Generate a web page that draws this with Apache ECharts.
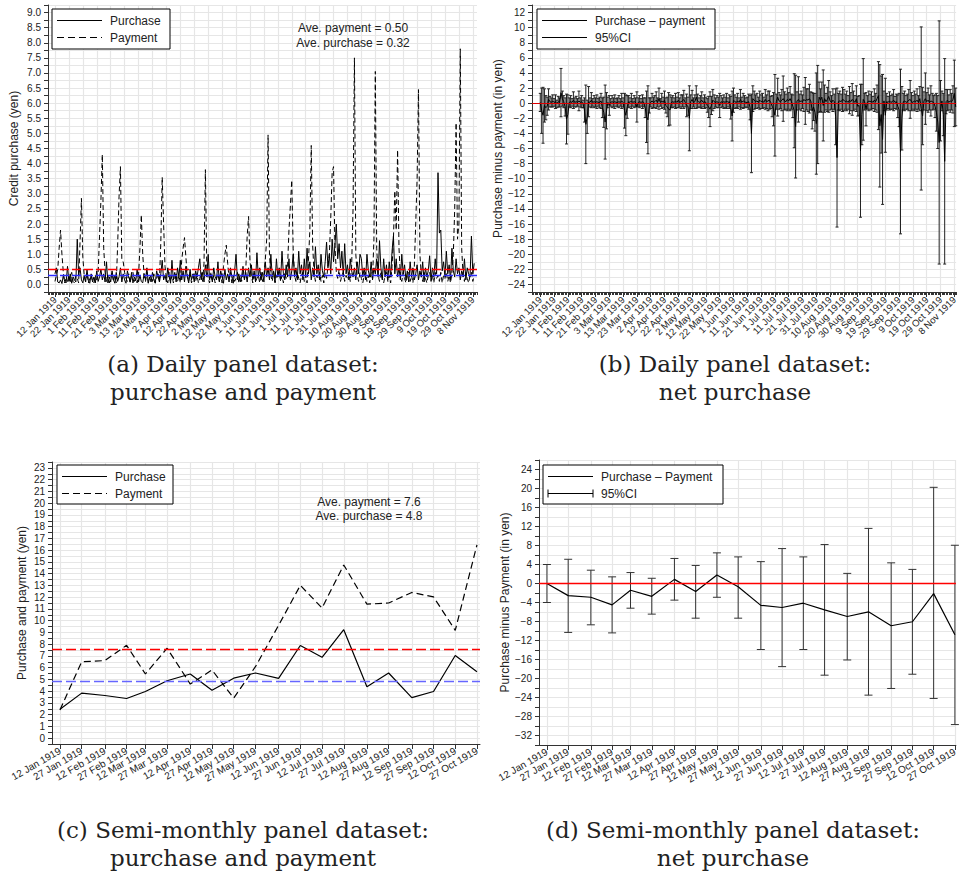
<!DOCTYPE html>
<html>
<head>
<meta charset="utf-8">
<title>Credit purchase and payment, 1919</title>
<script src="https://cdn.jsdelivr.net/npm/echarts@6/dist/echarts.min.js"></script>
<style>
html, body { margin: 0; padding: 0; background: #fff; }
#container { width: 960px; height: 881px; }
</style>
</head>
<body>
<div id="container"></div>
<script>
// ---- daily panel (12 Jan 1919 = day 0) ----
var dailyTickDays = [0, 10, 20, 30, 40, 50, 60, 70, 80, 90, 100, 110, 120, 130, 140, 150,
	160, 170, 180, 190, 200, 210, 220, 230, 240, 250, 260, 270, 280, 290, 300];
var dailyTickLabels = ['12 Jan 1919', '22 Jan 1919', '1 Feb 1919', '11 Feb 1919', '21 Feb 1919',
	'3 Mar 1919', '13 Mar 1919', '23 Mar 1919', '2 Apr 1919', '12 Apr 1919', '22 Apr 1919',
	'2 May 1919', '12 May 1919', '22 May 1919', '1 Jun 1919', '11 Jun 1919', '21 Jun 1919',
	'1 Jul 1919', '11 Jul 1919', '21 Jul 1919', '31 Jul 1919', '10 Aug 1919', '20 Aug 1919',
	'30 Aug 1919', '9 Sep 1919', '19 Sep 1919', '29 Sep 1919', '9 Oct 1919', '19 Oct 1919',
	'29 Oct 1919', '8 Nov 1919'];

var purchaseDaily = [
	0.35, 0.55, 0.08, 0.05, 0.15, 0.03, 0.3, 0.1, 0.05, 0.6,
	0.1, 0.35, 0.04, 0.25, 0.15, 0.08, 1.5, 0.3, 0.55, 0.15,
	0.05, 0.3, 0.08, 0.5, 0.12, 0.04, 0.35, 0.08, 0.25, 0.05,
	0.45, 0.1, 0.25, 0.5, 0.15, 0.35, 0.08, 0.75, 0.05, 0.25,
	0.08, 0.45, 0.15, 0.04, 0.4, 0.1, 0.25, 0.55, 0.08, 0.35,
	0.15, 0.04, 0.45, 0.25, 0.08, 0.4, 0.05, 0.25, 0.12, 0.5,
	0.08, 0.3, 0.1, 0.05, 0.35, 0.15, 0.55, 0.04, 0.25, 0.08,
	0.4, 0.15, 0.04, 0.45, 0.25, 0.08, 0.35, 0.8, 0.15, 0.3,
	0.08, 0.55, 0.25, 0.04, 0.8, 0.15, 0.4, 0.08, 0.55, 0.25,
	0.8, 0.15, 0.45, 0.08, 0.6, 0.25, 0.05, 0.5, 0.15, 0.35,
	0.08, 0.45, 0.25, 0.55, 0.85, 0.15, 0.4, 0.08, 0.65, 0.25,
	1.0, 0.15, 0.35, 0.08, 0.55, 0.25, 0.15, 0.75, 0.08, 0.45,
	0.25, 0.04, 0.5, 0.15, 0.35, 0.08, 0.55, 0.25, 0.04, 0.45,
	1.0, 0.15, 0.35, 0.08, 0.25, 0.6, 0.15, 0.4, 0.08, 0.55,
	0.25, 0.65, 0.15, 0.45, 0.08, 1.05, 0.25, 0.55, 0.15, 0.4,
	0.08, 0.75, 0.25, 0.55, 0.15, 1.0, 0.25, 0.45, 0.08, 0.85,
	0.25, 0.55, 0.15, 1.1, 0.35, 0.15, 0.65, 0.25, 0.85, 0.15,
	0.45, 1.0, 0.25, 0.55, 0.15, 1.1, 0.35, 0.65, 0.15, 0.85,
	0.25, 1.2, 0.35, 0.75, 0.15, 0.55, 0.25, 1.25, 0.35, 0.65,
	0.15, 1.0, 0.45, 0.25, 0.75, 1.4, 0.55, 1.0, 0.35, 1.5,
	0.75, 1.3, 2.0, 0.85, 1.35, 0.55, 1.1, 0.25, 1.35, 0.35,
	0.65, 0.15, 0.85, 0.45, 0.25, 0.55, 0.15, 0.75, 0.35, 1.0,
	0.85, 0.25, 0.55, 0.15, 1.0, 0.45, 0.25, 0.75, 0.15, 0.55,
	0.35, 0.85, 0.25, 1.45, 0.55, 0.15, 0.85, 0.25, 0.65, 0.15,
	0.75, 0.25, 1.1, 1.6, 0.35, 0.85, 0.25, 0.55, 0.15, 1.0,
	0.35, 0.65, 0.15, 0.45, 0.08, 0.75, 0.25, 0.55, 0.15, 0.35,
	0.65, 0.15, 0.45, 0.25, 0.75, 0.08, 0.55, 0.25, 0.45, 0.95,
	0.15, 0.55, 0.25, 0.85, 0.35, 3.7, 1.7, 1.8, 0.45, 0.75,
	0.25, 1.1, 0.35, 0.65, 0.15, 1.2, 0.45, 0.25, 0.85, 0.35,
	0.55, 0.15, 0.45, 0.25, 0.85, 0.15, 0.55, 0.35, 0.25, 1.6,
	0.35, 0.7
];

var paymentDaily = [
	0.1, 0.3, 0.5, 1.2, 1.8, 1.0, 0.4, 0.05, 0.2, 0.1,
	0.3, 0.05, 0.4, 0.1, 0.05, 0.3, 0.2, 0.05, 1.4, 2.85,
	0.9, 0.3, 0.1, 0.4, 0.05, 0.2, 0.3, 0.1, 0.05, 0.3,
	0.1, 0.4, 1.6, 2.8, 4.3, 1.2, 0.4, 0.1, 0.3, 0.05,
	0.2, 0.4, 0.1, 0.3, 0.05, 1.3, 2.9, 3.9, 0.8, 0.75,
	0.4, 0.2, 0.1, 0.35, 0.05, 0.3, 0.4, 0.1, 0.2, 0.05,
	0.3, 1.2, 2.3, 1.0, 0.3, 0.1, 0.4, 0.05, 0.2, 0.3,
	0.1, 0.35, 0.05, 0.2, 0.4, 0.1, 1.4, 3.55, 2.0, 0.6,
	0.2, 0.05, 0.4, 0.1, 0.3, 0.05, 0.2, 0.4, 0.1, 0.3,
	0.05, 0.8, 1.2, 1.55, 0.9, 0.3, 0.1, 0.4, 0.05, 0.2,
	0.4, 0.1, 0.3, 0.05, 0.2, 0.4, 0.1, 0.7, 3.8, 0.6,
	0.2, 0.05, 0.4, 0.1, 0.3, 0.05, 0.2, 0.35, 0.1, 0.3,
	0.05, 0.6, 1.0, 1.3, 0.7, 0.2, 0.4, 0.05, 0.3, 0.1,
	0.2, 0.4, 0.05, 0.3, 0.1, 0.4, 0.2, 0.5, 1.6, 2.25,
	0.8, 0.3, 0.05, 0.4, 0.1, 0.2, 0.3, 0.05, 0.4, 0.1,
	0.3, 0.8, 1.5, 4.95, 1.0, 0.3, 0.1, 0.4, 0.05, 0.3,
	0.2, 0.4, 0.1, 0.3, 0.05, 0.4, 0.2, 0.6, 1.8, 2.6,
	3.45, 1.2, 0.3, 0.1, 0.4, 0.2, 0.05, 0.3, 0.4, 0.1,
	0.3, 0.05, 0.8, 1.8, 4.6, 1.3, 0.4, 0.1, 0.3, 0.2,
	0.4, 0.1, 0.3, 0.05, 0.4, 0.2, 0.6, 1.0, 2.2, 3.7,
	3.9, 1.3, 0.4, 0.2, 0.5, 0.1, 0.3, 0.4, 0.1, 0.3,
	0.2, 0.4, 0.1, 0.6, 2.5, 7.5, 1.0, 0.3, 0.1, 0.4,
	0.2, 0.05, 0.3, 0.4, 0.1, 0.3, 0.05, 0.4, 0.2, 1.5,
	7.05, 1.2, 0.3, 0.1, 0.4, 0.2, 0.05, 0.3, 0.4, 0.1,
	0.3, 0.05, 0.6, 1.5, 3.1, 1.8, 4.45, 1.2, 0.3, 0.1,
	0.4, 0.2, 0.05, 0.3, 0.4, 0.1, 0.3, 0.05, 0.6, 2.0,
	3.5, 6.45, 1.0, 0.3, 0.1, 0.4, 0.2, 0.05, 0.3, 0.4,
	0.1, 0.3, 0.05, 0.4, 0.2, 0.3, 0.1, 0.4, 0.05, 0.3,
	0.2, 0.4, 0.1, 0.3, 0.05, 0.4, 1.0, 2.5, 5.35, 1.5,
	2.0, 7.8, 1.2, 0.3, 0.1, 0.4, 0.2, 0.05, 0.3, 0.4,
	0.1, 0.3
];

var dailyAverages = [0.50, 0.32]; // payment, purchase

// net purchase (purchase - payment) and half width of its 95% CI
var netDaily = [
	0.1, -1.0, -1.6, -0.3, -0.6, -0.4, 0.5, 0.2, 0.1, 0.3,
	0.1, 0.2, -0.1, 0.2, 0.1, 1.4, 0.6, 0.2, -0.5, -2.1,
	-1.5, 0.1, 0.2, 0.1, 0.4, 0.1, 0.2, 0.1, 0.3, 0.1,
	0.2, -0.1, -0.9, -2.8, -1.8, 0.2, 0.1, 0.4, 0.1, 0.2,
	0.1, 0.2, 0.1, 0.1, 0.3, -0.6, -1.2, -2.5, -1.0, 0.1,
	-0.3, 0.1, 0.2, 0.1, 0.2, 0.1, 0.1, 0.2, 0.1, 0.3,
	0.1, -1.0, -1.6, -0.5, 0.2, 0.1, 0.3, 0.1, 0.2, 0.1,
	-0.5, 0.1, 0.2, 0.1, 0.2, 0.1, -0.6, -1.8, -2.2, -0.3,
	0.1, 0.3, 0.1, 0.2, 0.4, 0.1, 0.6, 0.1, 0.3, 0.1,
	0.4, -0.3, -0.5, -0.8, -0.9, 0.1, 0.2, 0.1, 0.3, 0.1,
	0.4, 0.1, 0.2, 0.3, 0.5, 0.1, -0.3, -0.4, -2.0, 0.2,
	0.5, 0.1, 0.2, 0.8, 0.3, 0.1, 0.2, 0.4, 0.1, 0.2,
	0.1, -0.3, -0.5, -0.8, -0.3, 0.4, 0.2, 0.1, 0.2, 0.1,
	-0.3, 0.2, 0.1, 0.2, 0.1, 0.3, 0.1, 0.2, -0.6, -1.7,
	0.4, 0.2, 0.1, 0.3, 0.1, 0.5, 0.1, 0.3, 0.2, 0.1,
	0.1, 0.2, -0.6, -4.0, 0.6, 0.4, 0.2, 0.3, 0.1, 0.4,
	0.2, 0.3, 0.1, 0.5, 0.2, 0.3, 0.4, 0.1, -0.4, -0.8,
	-1.6, 0.2, 0.8, 0.3, 0.2, 0.4, 0.6, 0.3, 0.2, 0.5,
	0.3, 0.6, 0.2, -0.4, -1.0, -3.1, 0.3, 0.5, 0.2, 0.3,
	0.2, 0.5, 0.3, 0.5, 0.4, 0.6, 0.3, -1.0, -0.5, -1.2,
	-2.7, -1.5, 0.8, 0.4, 0.8, -0.3, 0.6, 0.2, 0.5, 0.9,
	0.3, 0.1, 0.4, 0.2, -1.8, -7.2, 0.2, 0.3, 0.2, 0.5,
	0.4, 0.2, 0.3, 0.1, 0.4, 0.2, 0.5, 0.3, 0.1, 0.6,
	-0.4, -0.3, -6.3, -1.5, 0.5, 0.2, -0.8, 0.1, 0.3, 0.2,
	0.3, 0.1, 0.4, 0.2, 0.6, 1.0, -3.0, -1.5, -4.8, 0.3,
	-1.6, 0.2, 0.1, 0.3, 0.1, 0.2, 0.4, 0.1, 0.2, -0.4,
	-0.9, -6.4, -2.0, 0.2, 0.3, 0.1, 0.2, 0.4, 0.5, 0.2,
	0.1, 0.3, 0.2, 0.4, 0.1, 0.6, -0.7, -1.7, 0.3, 0.6,
	0.2, 0.4, 0.1, 0.3, 0.2, 0.1, -0.4, -1.2, -2.5, -5.2,
	-1.0, 0.3, -1.5, -7.7, 0.2, 0.4, 0.1, 0.3, 0.2, 0.5,
	1.3, -0.5
];
var ciDaily = [
	1.2, 3.0, 3.7, 2.2, 1.6, 1.2, 1.4, 0.7, 0.6, 0.8,
	0.5, 0.9, 0.5, 0.7, 0.6, 3.2, 1.0, 0.8, 1.2, 3.3,
	2.6, 0.6, 0.8, 0.5, 1.1, 0.6, 0.7, 0.5, 1.3, 0.6,
	0.8, 0.5, 1.6, 5.2, 2.2, 2.0, 0.6, 1.0, 0.5, 0.8,
	0.6, 0.9, 0.5, 0.7, 1.0, 1.3, 2.0, 4.9, 2.4, 0.7,
	1.3, 0.5, 0.8, 0.6, 0.9, 0.5, 0.6, 0.8, 0.5, 1.0,
	0.6, 2.3, 2.7, 1.5, 0.8, 0.6, 1.0, 0.5, 0.8, 0.6,
	2.0, 0.6, 0.8, 0.5, 0.9, 0.6, 1.3, 3.4, 4.5, 1.0,
	0.6, 1.0, 0.7, 0.8, 1.1, 0.6, 1.4, 0.5, 1.0, 0.7,
	1.2, 1.0, 1.3, 2.2, 2.0, 0.7, 0.8, 0.6, 1.0, 0.7,
	1.0, 0.6, 0.9, 0.8, 1.2, 0.6, 1.5, 1.2, 4.3, 0.9,
	1.2, 0.6, 0.9, 1.5, 0.9, 0.6, 0.8, 1.1, 0.6, 0.9,
	0.7, 0.9, 1.4, 2.3, 1.2, 1.4, 0.9, 0.6, 0.8, 0.7,
	1.6, 0.8, 0.6, 0.9, 0.7, 1.0, 0.6, 0.9, 1.5, 3.3,
	1.6, 0.9, 0.7, 1.0, 0.6, 1.3, 0.7, 1.0, 0.8, 0.6,
	0.7, 1.0, 1.6, 5.2, 1.7, 1.2, 0.9, 1.0, 0.7, 1.2,
	0.9, 1.0, 0.7, 1.3, 0.9, 1.3, 1.2, 0.8, 1.4, 2.2,
	5.4, 1.0, 2.5, 1.1, 0.9, 1.4, 3.0, 1.2, 1.0, 1.5,
	1.1, 1.6, 1.0, 1.5, 4.9, 6.8, 1.2, 3.0, 1.0, 1.3,
	0.9, 1.6, 3.1, 1.4, 1.5, 1.9, 1.2, 2.4, 1.8, 2.5,
	6.7, 6.5, 2.0, 1.5, 2.0, 4.7, 1.8, 1.1, 1.6, 2.1,
	1.2, 0.9, 1.5, 1.0, 3.7, 9.2, 1.1, 1.3, 1.0, 1.6,
	1.4, 1.0, 1.3, 0.9, 1.8, 1.2, 2.1, 1.3, 0.9, 1.7,
	1.3, 1.3, 8.8, 4.0, 5.4, 1.1, 2.2, 0.9, 1.3, 1.0,
	1.2, 0.8, 1.5, 1.1, 1.8, 4.5, 8.1, 5.1, 8.6, 1.3,
	4.9, 1.1, 0.8, 1.2, 0.9, 1.0, 1.4, 0.8, 1.0, 1.5,
	2.2, 10.9, 4.2, 1.1, 1.3, 0.9, 1.0, 1.4, 2.5, 1.2,
	0.9, 1.3, 1.0, 1.5, 0.9, 1.6, 10.8, 3.8, 1.2, 3.4,
	1.2, 1.6, 1.0, 2.0, 1.1, 0.9, 1.5, 2.5, 3.5, 16.1,
	4.0, 1.3, 2.8, 13.6, 1.6, 1.4, 1.0, 1.5, 1.1, 1.8,
	4.4, 2.5
];

// ---- semi-monthly panel ----
var semiDays = [0, 15, 31, 46, 59, 74, 90, 105, 120, 135, 151, 166, 181, 196, 212, 227, 243, 258, 273, 288];
var semiLabels = ['12 Jan 1919', '27 Jan 1919', '12 Feb 1919', '27 Feb 1919', '12 Mar 1919',
	'27 Mar 1919', '12 Apr 1919', '27 Apr 1919', '12 May 1919', '27 May 1919', '12 Jun 1919',
	'27 Jun 1919', '12 Jul 1919', '27 Jul 1919', '12 Aug 1919', '27 Aug 1919', '12 Sep 1919',
	'27 Sep 1919', '12 Oct 1919', '27 Oct 1919'];
var purchaseSemi = [2.45, 3.83, 3.63, 3.37, 3.97, 4.88, 5.46, 4.08, 5.1, 5.54, 5.08, 7.88, 6.88, 9.23, 4.37, 5.54, 3.45, 3.97, 7.03, 5.65];
var paymentSemi = [2.4, 6.5, 6.6, 7.9, 5.46, 7.65, 4.6, 5.8, 3.4, 6.08, 9.6, 13.0, 11.08, 14.74, 11.4, 11.5, 12.4, 12.02, 9.17, 16.45];
var semiAverages = [7.6, 4.8]; // payment, purchase
var netSemi = [0.0, -2.55, -2.9, -4.5, -1.43, -2.7, 0.87, -1.7, 1.78, -0.67, -4.6, -5.05, -4.15, -5.55, -6.94, -5.96, -8.9, -8.05, -2.13, -10.8];
var ciLowSemi = [-4.0, -10.3, -8.7, -10.4, -5.2, -6.45, -3.5, -7.3, -2.9, -7.3, -13.9, -17.5, -13.9, -19.3, -16.1, -23.5, -22.1, -19.1, -24.2, -29.7];
var ciHighSemi = [4.0, 5.1, 2.8, 1.4, 2.3, 1.1, 5.27, 3.8, 6.45, 5.6, 4.6, 7.35, 5.6, 8.2, 2.13, 11.6, 4.35, 2.97, 20.25, 8.05];

var dom = document.getElementById("container");
var myChart = echarts.init(dom, null, { renderer: 'svg' });

var INK = '#222';
var GRIDC = '#e6e6e6';
var SANS = '"Liberation Sans", Arial, sans-serif';
var SERIF = '"DejaVu Serif", "Liberation Serif", serif';
var SOLID = [400, 0];

function dateAxis(gridIndex, min, max, ticks, labels, rotate, size) {
	return {
		type: 'value', gridIndex: gridIndex, min: min, max: max, position: 'bottom',
		axisLine: { onZero: false, lineStyle: { color: '#333', width: 1 } },
		axisTick: { customValues: ticks, length: 5, lineStyle: { color: '#333' } },
		axisLabel: {
			show: !!labels, customValues: ticks, rotate: rotate, margin: 6, fontSize: size,
			color: INK, fontFamily: SANS,
			showMinLabel: true, showMaxLabel: true, hideOverlap: false,
			formatter: function (v) { return labels ? (labels[ticks.indexOf(Math.round(v))] || '') : ''; }
		},
		splitLine: { show: true, lineStyle: { color: GRIDC, width: 1.2 } }
	};
}
// daily minor ticks, one per day; optionally carries the 10-day labels
function dayTickAxis(gridIndex, min, max, labels) {
	return {
		type: 'value', gridIndex: gridIndex, min: min, max: max, interval: 1, position: 'bottom',
		axisLine: { show: false, onZero: false },
		axisTick: { show: true, length: 3, lineStyle: { color: '#333' } },
		axisLabel: {
			show: !!labels, rotate: 45, margin: 6, fontSize: 9.6, color: INK, fontFamily: SANS,
			showMinLabel: true, showMaxLabel: true, hideOverlap: false,
			formatter: function (v) {
				var k = Math.round(v);
				var idx = dailyTickDays.indexOf(k);
				return (labels && idx >= 0) ? labels[idx] : '';
			}
		},
		splitLine: { show: false }
	};
}
function numAxis(gridIndex, min, max, interval, name, nameGap, fmt) {
	return {
		type: 'value', gridIndex: gridIndex, min: min, max: max, interval: interval,
		name: name, nameLocation: 'middle', nameGap: nameGap, nameRotate: 90,
		nameTextStyle: { fontSize: 12, color: INK, fontFamily: SANS },
		axisLine: { show: true, onZero: false, lineStyle: { color: '#333' } },
		axisTick: { show: true, length: 4, lineStyle: { color: '#333' } },
		axisLabel: { fontSize: 10, color: INK, margin: 7, fontFamily: SANS, formatter: fmt },
		splitLine: { show: true, lineStyle: { color: GRIDC, width: 1.2 } }
	};
}
function minus(v) {
	return v < 0 ? '\u2212' + (-v) : '' + v;
}

function errorBars(capHalf, color) {
	return function (params, api) {
		var x = api.value(0);
		var lo = api.coord([x, api.value(1)]);
		var hi = api.coord([x, api.value(2)]);
		function seg(x1, y1, x2, y2) {
			return { type: 'line', shape: { x1: x1, y1: y1, x2: x2, y2: y2 },
				style: { stroke: color, lineWidth: 1, fill: null } };
		}
		return { type: 'group', children: [
			seg(lo[0], lo[1], hi[0], hi[1]),
			seg(lo[0] - capHalf, lo[1], lo[0] + capHalf, lo[1]),
			seg(hi[0] - capHalf, hi[1], hi[0] + capHalf, hi[1])
		] };
	};
}
// horizontal reference line at a y value
function refLine(value, color, width, dash) {
	var ls = { color: color, width: width, opacity: 1, type: dash };
	return {
		silent: true, symbol: 'none', label: { show: false }, z: 6,
		lineStyle: ls,
		emphasis: { disabled: true },
		data: [{ yAxis: value, lineStyle: ls }]
	};
}

function legendBox(x, y, w, h, items) {
	var els = [{ type: 'rect', z: 100, shape: { x: x, y: y, width: w, height: h },
		style: { fill: '#fff', stroke: '#000', lineWidth: 1 } }];
	items.forEach(function (it, k) {
		var ry = y + 11.5 + k * 17;
		var ls = { stroke: '#000', lineWidth: 1 };
		if (it.kind === 'dashed') ls.lineDash = [7, 4];
		els.push({ type: 'line', z: 101, shape: { x1: x + 5, y1: ry, x2: x + 50, y2: ry }, style: ls });
		if (it.kind === 'rcap') {
			els.push({ type: 'line', z: 101, shape: { x1: x + 5, y1: ry - 4, x2: x + 5, y2: ry + 4 }, style: { stroke: '#000', lineWidth: 1 } });
			els.push({ type: 'line', z: 101, shape: { x1: x + 50, y1: ry - 4, x2: x + 50, y2: ry + 4 }, style: { stroke: '#000', lineWidth: 1 } });
		}
		els.push({ type: 'text', z: 101, style: { text: it.label, x: x + 58, y: ry, fill: INK,
			fontSize: 12, fontFamily: SANS, align: 'left', verticalAlign: 'middle' } });
	});
	return els;
}
function centerText(text, x, y, size, family) {
	return { type: 'text', z: 100, style: { text: text, x: x, y: y, fill: INK,
		fontSize: size, fontFamily: family, align: 'center', verticalAlign: 'middle' } };
}

var option = {
	animation: false,
	grid: [
		{ left: 48, top: 5, width: 429, height: 287 },
		{ left: 532, top: 5, width: 428, height: 287 },
		{ left: 52, top: 462, width: 428, height: 282 },
		{ left: 539, top: 460, width: 421, height: 285 }
	],
	xAxis: [
		dateAxis(0, -5, 303, dailyTickDays, dailyTickLabels, 45, 9.6),
		dayTickAxis(0, -5, 303, null),
		dateAxis(1, -6, 301.3, dailyTickDays, null, 45, 9.6),
		dayTickAxis(1, -6, 301.3, dailyTickLabels),
		dateAxis(2, -5.5, 290.1, semiDays, semiLabels, 30, 10),
		dateAxis(3, -5.6, 288.7, semiDays, semiLabels, 30, 10)
	],
	yAxis: [
		numAxis(0, -0.25, 9.25, 0.25, 'Credit purchase (yen)', 28, function (v) {
			var k = Math.round(v * 100);
			return (k % 50 === 0 && k >= 0 && k <= 900) ? (k / 100).toFixed(1) : '';
		}),
		numAxis(1, -25, 13, 1, 'Purchase minus payment (in yen)', 28, function (v) {
			var k = Math.round(v);
			return (k % 2 === 0 && k >= -24 && k <= 12) ? minus(k) : '';
		}),
		numAxis(2, -0.5, 23.5, 0.5, 'Purchase and payment (yen)', 24, function (v) {
			var k = Math.round(v * 10);
			return (k % 10 === 0 && k >= 0 && k <= 230) ? '' + (k / 10) : '';
		}),
		numAxis(3, -34, 26, 2, 'Purchase minus Payment (in yen)', 27, function (v) {
			var k = Math.round(v);
			return (k % 4 === 0 && k >= -32 && k <= 24) ? minus(k) : '';
		})
	],
	series: [
		{
			name: 'Purchase', type: 'line', xAxisIndex: 0, yAxisIndex: 0, symbol: 'none', z: 3,
			data: purchaseDaily.map(function (v, i) { return [i, v]; }),
			lineStyle: { color: '#000', width: 1 },
			markLine: refLine(dailyAverages[1], '#2b2bff', 1.3, [9, 3])
		},
		{
			name: 'Payment', type: 'line', xAxisIndex: 0, yAxisIndex: 0, symbol: 'none', z: 2,
			data: paymentDaily.map(function (v, i) { return [i, v]; }),
			lineStyle: { color: '#000', width: 1, type: [5, 3] },
			markLine: refLine(dailyAverages[0], '#ff0000', 1.3, [9, 3])
		},
		{
			name: '95%CI', type: 'custom', xAxisIndex: 2, yAxisIndex: 1, z: 2,
			renderItem: errorBars(1.5, '#222'),
			encode: { x: 0, y: [1, 2] },
			data: netDaily.map(function (v, i) { return [i, v - ciDaily[i], v + ciDaily[i]]; })
		},
		{
			name: 'Purchase \u2212 payment', type: 'line', xAxisIndex: 2, yAxisIndex: 1, symbol: 'none', z: 3,
			data: netDaily.map(function (v, i) { return [i, v]; }),
			lineStyle: { color: '#000', width: 1 },
			markLine: refLine(0, '#dd0000', 1, SOLID)
		},
		{
			name: 'Purchase semi', type: 'line', xAxisIndex: 4, yAxisIndex: 2, symbol: 'none', z: 3,
			data: purchaseSemi.map(function (v, i) { return [semiDays[i], v]; }),
			lineStyle: { color: '#000', width: 1.2 },
			markLine: refLine(semiAverages[1], '#6666ff', 1.3, [10, 4])
		},
		{
			name: 'Payment semi', type: 'line', xAxisIndex: 4, yAxisIndex: 2, symbol: 'none', z: 3,
			data: paymentSemi.map(function (v, i) { return [semiDays[i], v]; }),
			lineStyle: { color: '#000', width: 1.2, type: [7, 4] },
			markLine: refLine(semiAverages[0], '#ff0000', 1.3, [10, 4])
		},
		{
			name: '95%CI semi', type: 'custom', xAxisIndex: 5, yAxisIndex: 3, z: 2,
			renderItem: errorBars(4, '#333'),
			encode: { x: 0, y: [1, 2] },
			data: semiDays.map(function (d, i) { return [d, ciLowSemi[i], ciHighSemi[i]]; })
		},
		{
			name: 'Net semi', type: 'line', xAxisIndex: 5, yAxisIndex: 3, symbol: 'none', z: 3,
			data: netSemi.map(function (v, i) { return [semiDays[i], v]; }),
			lineStyle: { color: '#000', width: 1.2 },
			markLine: refLine(0, '#ff0000', 1.3, SOLID)
		}
	],
	graphic: [].concat(
		legendBox(52, 9, 118, 40, [{ label: 'Purchase', kind: 'solid' }, { label: 'Payment', kind: 'dashed' }]),
		legendBox(537, 9, 178, 40, [{ label: 'Purchase \u2013 payment', kind: 'solid' }, { label: '95%CI', kind: 'solid' }]),
		legendBox(57, 465, 116, 39, [{ label: 'Purchase', kind: 'solid' }, { label: 'Payment', kind: 'dashed' }]),
		legendBox(543, 465, 180, 39, [{ label: 'Purchase \u2013 Payment', kind: 'solid' }, { label: '95%CI', kind: 'rcap' }]),
		[
			centerText('Ave. payment = ' + dailyAverages[0].toFixed(2), 353, 28, 12, SANS),
			centerText('Ave. purchase = ' + dailyAverages[1].toFixed(2), 353, 43, 12, SANS),
			centerText('Ave. payment = ' + semiAverages[0].toFixed(1), 369, 502, 12, SANS),
			centerText('Ave. purchase = ' + semiAverages[1].toFixed(1), 369, 516, 12, SANS),
			centerText('(a) Daily panel dataset:', 243, 364, 23, SERIF),
			centerText('purchase and payment', 243, 392, 23, SERIF),
			centerText('(b) Daily panel dataset:', 735, 364, 23, SERIF),
			centerText('net purchase', 735, 392, 23, SERIF),
			centerText('(c) Semi-monthly panel dataset:', 243, 830, 23, SERIF),
			centerText('purchase and payment', 243, 858, 23, SERIF),
			centerText('(d) Semi-monthly panel dataset:', 733, 830, 23, SERIF),
			centerText('net purchase', 733, 858, 23, SERIF)
		]
	)
};
myChart.setOption(option, true);
</script>
</body>
</html>
